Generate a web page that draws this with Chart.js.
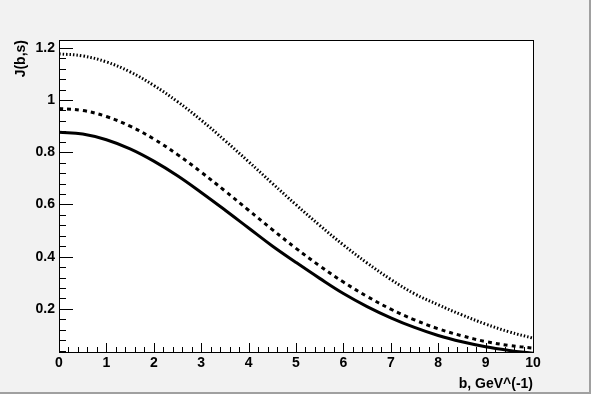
<!DOCTYPE html>
<html>
<head>
<meta charset="utf-8">
<script src="https://cdn.jsdelivr.net/npm/chart.js@4/dist/chart.umd.min.js"></script>
<style>
  html, body { margin: 0; padding: 0; background: #f2f2f2; }
  #wrap { width: 591px; height: 394px; position: relative; }
</style>
</head>
<body>
<div id="wrap"><canvas id="jChart" width="591" height="394"></canvas></div>
<script>
// b values, GeV^(-1)
var bValues = [0, 0.5, 1, 1.5, 2, 2.5, 3, 3.5, 4, 4.5, 5, 5.5, 6, 6.5, 7, 7.5, 8, 8.5, 9, 9.5, 10];

// J(b,s) curves
var solidJ  = [0.877, 0.870, 0.848, 0.813, 0.766, 0.710, 0.646, 0.579, 0.510, 0.441, 0.378, 0.317, 0.259, 0.209, 0.166, 0.129, 0.098, 0.074, 0.055, 0.041, 0.030];
var dashedJ = [0.968, 0.960, 0.937, 0.900, 0.851, 0.791, 0.724, 0.652, 0.578, 0.504, 0.432, 0.365, 0.303, 0.248, 0.199, 0.158, 0.124, 0.097, 0.075, 0.060, 0.050];
var dottedJ = [1.177, 1.169, 1.146, 1.108, 1.056, 0.994, 0.923, 0.845, 0.764, 0.681, 0.599, 0.520, 0.445, 0.376, 0.313, 0.258, 0.216, 0.177, 0.142, 0.112, 0.088];

var xTicks = [0, 1, 2, 3, 4, 5, 6, 7, 8, 9, 10];
var yTicks = [0.2, 0.4, 0.6, 0.8, 1, 1.2];
var yTickLabels = ["0.2", "0.4", "0.6", "0.8", "1", "1.2"];

function toPoints(ys) {
  var pts = [];
  for (var i = 0; i < bValues.length; i++) {
    pts.push({ x: bValues[i], y: ys[i] });
  }
  return pts;
}

var FONT = "'Liberation Sans', Arial, sans-serif";

// ROOT style: grey pad, white frame, ticks pointing inside
var rootFrame = {
  id: 'rootFrame',
  beforeDraw: function(chart) {
    var ctx = chart.ctx, a = chart.chartArea;
    ctx.save();
    ctx.fillStyle = '#f2f2f2';
    ctx.fillRect(0, 0, chart.width, chart.height);
    ctx.fillStyle = '#a0a0a0';
    ctx.fillRect(0, chart.height - 2, chart.width, 2);
    ctx.fillRect(chart.width - 2, 0, 2, chart.height);
    ctx.fillStyle = '#ffffff';
    ctx.fillRect(a.left, a.top, a.right - a.left, a.bottom - a.top);
    ctx.restore();
  },
  afterDatasetsDraw: function(chart) {
    var ctx = chart.ctx, a = chart.chartArea;
    var xs = chart.scales.x, ys = chart.scales.y;
    ctx.save();
    ctx.strokeStyle = '#000';
    ctx.lineWidth = 1;
    ctx.beginPath();
    // x ticks: major every 1, minor every 0.2
    for (var i = 0; i <= 50; i++) {
      var v = i * 0.2;
      var px = Math.round(xs.getPixelForValue(v)) + 0.5;
      var len = (i % 5 === 0) ? 9 : 5;
      ctx.moveTo(px, a.bottom);
      ctx.lineTo(px, a.bottom - len);
    }
    // y ticks: major every 0.2, minor every 0.04
    for (var j = 1; j <= 30; j++) {
      var vy = j * 0.04;
      if (vy < ys.min || vy > ys.max) continue;
      var py = Math.round(ys.getPixelForValue(vy)) + 0.5;
      var ylen = (j % 5 === 0) ? 14 : 7;
      ctx.moveTo(a.left, py);
      ctx.lineTo(a.left + ylen, py);
    }
    ctx.stroke();
    ctx.strokeRect(Math.round(a.left) + 0.5, Math.round(a.top) + 0.5,
                   Math.round(a.right - a.left), Math.round(a.bottom - a.top));
    ctx.restore();
  }
};

var ctx = document.getElementById("jChart").getContext("2d");
var jChart = new Chart(ctx, {
  type: 'line',
  data: {
    datasets: [
      { label: "solid", data: toPoints(solidJ), borderColor: "#000", borderWidth: 3, pointRadius: 0, tension: 0.4, fill: false },
      { label: "dashed", data: toPoints(dashedJ), borderColor: "#000", borderWidth: 3, borderDash: [4, 4], pointRadius: 0, tension: 0.4, fill: false },
      { label: "dotted", data: toPoints(dottedJ), borderColor: "#000", borderWidth: 3, borderDash: [1.5, 2], pointRadius: 0, tension: 0.4, fill: false }
    ]
  },
  options: {
    responsive: false,
    animation: false,
    layout: { padding: { left: 0, top: 40, right: 58, bottom: 0 } },
    plugins: { legend: { display: false }, tooltip: { enabled: false } },
    scales: {
      x: {
        type: 'linear',
        min: 0, max: 10,
        afterFit: function(s) { s.height = 42; },
        afterBuildTicks: function(s) { s.ticks = xTicks.map(function(v) { return { value: v }; }); },
        grid: { display: false, drawTicks: false },
        border: { display: false },
        ticks: { color: '#000', padding: 3, maxRotation: 0, autoSkip: false, font: { family: FONT, size: 14, weight: 'bold' } },
        title: { display: true, text: "b, GeV^(-1)", align: 'end', color: '#000', padding: { top: 0, bottom: 1 }, font: { family: FONT, size: 14, weight: 'bold' } }
      },
      y: {
        type: 'linear',
        min: 0.035, max: 1.23,
        afterFit: function(s) { s.width = 59; },
        afterBuildTicks: function(s) { s.ticks = yTicks.map(function(v) { return { value: v }; }); },
        grid: { display: false, drawTicks: false },
        border: { display: false },
        ticks: {
          color: '#000', padding: 4, autoSkip: false,
          font: { family: FONT, size: 14, weight: 'bold' },
          callback: function(v) { var k = yTicks.indexOf(v); return k >= 0 ? yTickLabels[k] : ''; }
        },
        title: { display: true, text: "J(b,s)", align: 'end', color: '#000', padding: { top: 13, bottom: 0 }, font: { family: FONT, size: 14, weight: 'bold' } }
      }
    }
  },
  plugins: [rootFrame]
});
</script>
</body>
</html>
